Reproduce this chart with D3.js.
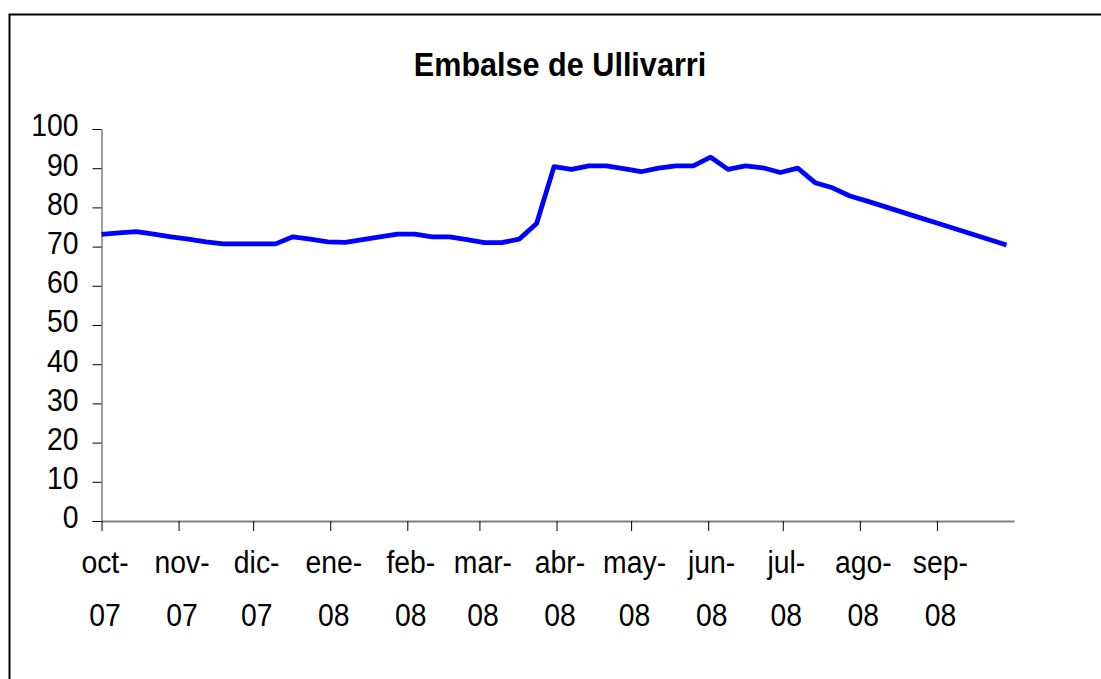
<!DOCTYPE html>
<html>
<head>
<meta charset="utf-8">
<script src="https://cdn.jsdelivr.net/npm/d3@7"></script>
<style>
  body { margin: 0; background: #fff; }
  text { font-family: "Liberation Sans", Arial, sans-serif; fill: #000; }
</style>
</head>
<body>
<div id="chart"></div>
<script>
// weekly readings (dates) and reservoir level (%)
var fechas = [
  "2007-10-01", "2007-10-08", "2007-10-15", "2007-10-22", "2007-10-29",
  "2007-11-05", "2007-11-12", "2007-11-19", "2007-11-26",
  "2007-12-03", "2007-12-10", "2007-12-17", "2007-12-24", "2007-12-31",
  "2008-01-07", "2008-01-14", "2008-01-21", "2008-01-28",
  "2008-02-04", "2008-02-11", "2008-02-18", "2008-02-25",
  "2008-03-03", "2008-03-10", "2008-03-17", "2008-03-24", "2008-03-31",
  "2008-04-07", "2008-04-14", "2008-04-21", "2008-04-28",
  "2008-05-05", "2008-05-12", "2008-05-19", "2008-05-26",
  "2008-06-02", "2008-06-09", "2008-06-16", "2008-06-23", "2008-06-30",
  "2008-07-07", "2008-07-14", "2008-07-21", "2008-07-28",
  "2008-08-04", "2008-08-11", "2008-08-18", "2008-08-25",
  "2008-09-01", "2008-09-08", "2008-09-15", "2008-09-22", "2008-09-29"
];
var nivel = [
  73.1, 73.5, 73.8, 73.2, 72.5, 71.9, 71.2, 70.7, 70.7, 70.7,
  70.7, 72.5, 71.9, 71.2, 71.1, 71.8, 72.5, 73.2, 73.2, 72.5,
  72.5, 71.8, 71.0, 71.0, 71.9, 75.9, 90.4, 89.7, 90.6, 90.6,
  89.9, 89.1, 90.0, 90.6, 90.6, 92.8, 89.7, 90.6, 90.1, 88.9,
  90.0, 86.3, 85.0, 82.9, 81.6, 80.2, 78.8, 77.4, 76.0, 74.6,
  73.2, 71.8, 70.4
];
var meses = ["2007-10-01", "2007-11-01", "2007-12-01", "2008-01-01", "2008-02-01", "2008-03-01",
             "2008-04-01", "2008-05-01", "2008-06-01", "2008-07-01", "2008-08-01", "2008-09-01"];
var etiquetasMes = ["oct-07", "nov-07", "dic-07", "ene-08", "feb-08", "mar-08",
                    "abr-08", "may-08", "jun-08", "jul-08", "ago-08", "sep-08"];
var ticksY = [0, 10, 20, 30, 40, 50, 60, 70, 80, 90, 100];
var finEje = "2008-10-02";
var titulo = "Embalse de Ullivarri";

var W = 1101, H = 679;
var margin = { top: 129, right: 87, bottom: 158, left: 101.5 },
    width = W - margin.left - margin.right,
    height = H - margin.top - margin.bottom;

// the original font looks a little narrower than Liberation Sans
var squeeze = 0.9;

var parse = d3.timeParse("%Y-%m-%d");
var data = fechas.map(function (f, i) { return { date: parse(f), value: nivel[i] }; });

var svgRoot = d3.select("#chart").append("svg")
    .attr("width", W)
    .attr("height", H);

// chart area border (right/bottom edges fall outside the picture)
svgRoot.append("rect")
    .attr("x", 9.5).attr("y", 14.5)
    .attr("width", 1200).attr("height", 800)
    .attr("fill", "none")
    .attr("stroke", "#000")
    .attr("stroke-width", 2);

svgRoot.append("text")
    .attr("transform", "translate(560,76) scale(" + squeeze + ",1)")
    .attr("text-anchor", "middle")
    .attr("font-weight", "bold")
    .attr("font-size", "34px")
    .text(titulo);

var svg = svgRoot.append("g")
    .attr("transform", "translate(" + margin.left + "," + margin.top + ")");

var x = d3.scaleTime()
    .domain([data[0].date, parse(finEje)])
    .range([0, width]);

var y = d3.scaleLinear()
    .domain([0, 100])
    .range([height, 0]);

// X axis
var xAxis = svg.append("g")
    .attr("transform", "translate(0," + height + ")")
    .call(d3.axisBottom(x)
        .tickValues(meses.map(parse))
        .tickSize(10)
        .tickSizeOuter(0)
        .tickFormat(function () { return ""; }));
xAxis.select(".domain").attr("stroke", "#808080").attr("stroke-width", 2);
xAxis.selectAll(".tick line").attr("stroke", "#000");

// two-line month labels
xAxis.selectAll(".tick text").remove();
xAxis.selectAll(".tick").each(function (d, i) {
    var parts = etiquetasMes[i].split("-");
    var t = d3.select(this).append("text")
        .attr("transform", "translate(3,0) scale(" + squeeze + ",1)")
        .attr("text-anchor", "middle")
        .attr("font-size", "31.5px")
        .attr("y", 52);
    t.append("tspan").attr("x", 0).text(parts[0] + "-");
    t.append("tspan").attr("x", 0).attr("dy", 53).text(parts[1]);
});

// Y axis
var yAxis = svg.append("g")
    .call(d3.axisLeft(y)
        .tickValues(ticksY)
        .tickSize(9)
        .tickSizeOuter(0));
yAxis.select(".domain").attr("stroke", "#404040");
yAxis.selectAll(".tick line").attr("stroke", "#000");
yAxis.selectAll(".tick text")
    .attr("x", null)
    .attr("transform", "translate(-23,0) scale(" + squeeze + ",1)")
    .attr("font-size", "31.5px")
    .attr("font-family", "Liberation Sans, Arial, sans-serif")
    .attr("dy", "0.22em");

// line
svg.append("path")
    .datum(data)
    .attr("fill", "none")
    .attr("stroke", "#0000ff")
    .attr("stroke-width", 4.8)
    .attr("stroke-linejoin", "round")
    .attr("d", d3.line()
        .x(function (d) { return x(d.date); })
        .y(function (d) { return y(d.value); }));
</script>
</body>
</html>
